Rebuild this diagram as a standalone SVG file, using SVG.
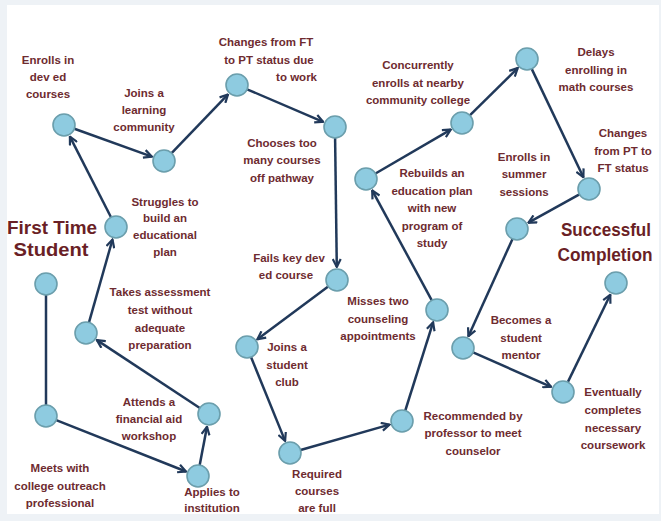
<svg xmlns="http://www.w3.org/2000/svg" width="661" height="521" viewBox="0 0 661 521">
<style>
.n{fill:#8ecbe0;stroke:#6b9eac;stroke-width:1.6}
.e{stroke:#21395a;stroke-width:2.5;fill:none;marker-end:url(#ah)}
.t{font-family:"Liberation Sans",Arial,sans-serif;font-weight:bold;font-size:11.5px;fill:#6e2b30;text-anchor:middle}
.h{font-family:"Liberation Sans",Arial,sans-serif;font-weight:bold;font-size:19px;fill:#6a1f26;text-anchor:middle}
</style>
<defs>
<marker id="ah" viewBox="0 0 10 10" refX="9" refY="5" markerWidth="10" markerHeight="10" markerUnits="userSpaceOnUse" orient="auto">
<path d="M1,1 L9,5 L1,9" fill="none" stroke="#21395a" stroke-width="2.2"/>
</marker>
</defs>
<rect width="661" height="521" fill="#eef2f6"/>
<rect x="7" y="5" width="652" height="509" fill="#ffffff"/>

<g id="connectors">
<line x1="46" y1="295" x2="46" y2="405" stroke="#21395a" stroke-width="2.5"/>
<line class="e" x1="56.2" y1="420.1" x2="186.0" y2="471.5"/>
<line class="e" x1="199.7" y1="465.1" x2="207.0" y2="426.8"/>
<line class="e" x1="199.8" y1="408.0" x2="96.9" y2="340.1"/>
<line class="e" x1="89.0" y1="322.4" x2="112.5" y2="239.5"/>
<line class="e" x1="111.0" y1="217.2" x2="69.9" y2="136.6"/>
<line class="e" x1="74.4" y1="128.7" x2="151.8" y2="156.6"/>
<line class="e" x1="171.6" y1="153.1" x2="228.0" y2="94.4"/>
<line class="e" x1="247.1" y1="89.3" x2="323.1" y2="121.9"/>
<line class="e" x1="335.1" y1="138" x2="336.8" y2="267"/>
<line class="e" x1="328.2" y1="286.6" x2="257.4" y2="339.2"/>
<line class="e" x1="251.1" y1="357.2" x2="285.1" y2="440.9"/>
<line class="e" x1="300.6" y1="450.0" x2="389.5" y2="424.6"/>
<line class="e" x1="405.3" y1="410.5" x2="433.1" y2="322.4"/>
<line class="e" x1="431.8" y1="300.3" x2="372.2" y2="190.4"/>
<line class="e" x1="375.5" y1="173.5" x2="450.8" y2="129.6"/>
<line class="e" x1="469.8" y1="115.3" x2="517.7" y2="68.1"/>
<line class="e" x1="531.7" y1="68.9" x2="583.4" y2="177.3"/>
<line class="e" x1="579.4" y1="194.3" x2="528.4" y2="222.7"/>
<line class="e" x1="512.5" y1="239.0" x2="468.4" y2="336.2"/>
<line class="e" x1="473.1" y1="352.4" x2="551.1" y2="386.8"/>
<line class="e" x1="567.8" y1="382.1" x2="610.3" y2="294.7"/>
</g>

<g id="first-time-student">
<circle class="n" cx="46" cy="284" r="11"/>
<text class="h" x="52" y="234" textLength="90" lengthAdjust="spacingAndGlyphs">First Time</text>
<text class="h" x="51" y="256" textLength="75" lengthAdjust="spacingAndGlyphs">Student</text>
</g>
<g id="meets-outreach">
<circle class="n" cx="46" cy="416" r="11"/>
<text class="t" x="60" y="472">Meets with</text>
<text class="t" x="60" y="490">college outreach</text>
<text class="t" x="60" y="507">professional</text>
</g>
<g id="applies">
<circle class="n" cx="198" cy="476" r="11"/>
<text class="t" x="212" y="496">Applies to</text>
<text class="t" x="212" y="512">institution</text>
</g>
<g id="financial-aid">
<circle class="n" cx="209" cy="414" r="11"/>
<text class="t" x="149" y="406">Attends a</text>
<text class="t" x="149" y="423">financial aid</text>
<text class="t" x="149" y="440">workshop</text>
</g>
<g id="assessment">
<circle class="n" cx="86" cy="333" r="11"/>
<text class="t" x="160" y="296">Takes assessment</text>
<text class="t" x="160" y="314">test without</text>
<text class="t" x="160" y="332">adequate</text>
<text class="t" x="160" y="349">preparation</text>
</g>
<g id="struggles">
<circle class="n" cx="116" cy="227" r="11"/>
<text class="t" x="165" y="206">Struggles to</text>
<text class="t" x="165" y="222">build an</text>
<text class="t" x="165" y="239">educational</text>
<text class="t" x="165" y="256">plan</text>
</g>
<g id="dev-ed">
<circle class="n" cx="64" cy="125" r="11"/>
<text class="t" x="48" y="64">Enrolls in</text>
<text class="t" x="48" y="81">dev ed</text>
<text class="t" x="48" y="98">courses</text>
</g>
<g id="learning-community">
<circle class="n" cx="164" cy="161" r="11"/>
<text class="t" x="144" y="97">Joins a</text>
<text class="t" x="144" y="114">learning</text>
<text class="t" x="144" y="131">community</text>
</g>
<g id="ft-to-pt">
<circle class="n" cx="237" cy="85" r="11"/>
<text class="t" x="266" y="46">Changes from FT</text>
<text class="t" x="269" y="64">to PT status due</text>
<text class="t" x="317" y="81" style="text-anchor:end">to work</text>
</g>
<g id="too-many-courses">
<circle class="n" cx="335" cy="127" r="11"/>
<text class="t" x="282" y="147">Chooses too</text>
<text class="t" x="282" y="164">many courses</text>
<text class="t" x="282" y="182">off pathway</text>
</g>
<g id="fails-dev-ed">
<circle class="n" cx="337" cy="280" r="11"/>
<text class="t" x="289" y="262">Fails key dev</text>
<text class="t" x="286" y="279">ed course</text>
</g>
<g id="student-club">
<circle class="n" cx="247" cy="347" r="11"/>
<text class="t" x="287" y="351">Joins a</text>
<text class="t" x="287" y="369">student</text>
<text class="t" x="287" y="386">club</text>
</g>
<g id="courses-full">
<circle class="n" cx="290" cy="453" r="11"/>
<text class="t" x="317" y="478">Required</text>
<text class="t" x="317" y="495">courses</text>
<text class="t" x="317" y="512">are full</text>
</g>
<g id="recommended">
<circle class="n" cx="402" cy="421" r="11"/>
<text class="t" x="473" y="420">Recommended by</text>
<text class="t" x="473" y="437">professor  to meet</text>
<text class="t" x="473" y="455">counselor</text>
</g>
<g id="misses-appointments">
<circle class="n" cx="437" cy="310" r="11"/>
<text class="t" x="378" y="305">Misses two</text>
<text class="t" x="378" y="323">counseling</text>
<text class="t" x="378" y="340">appointments</text>
</g>
<g id="rebuilds-plan">
<circle class="n" cx="366" cy="179" r="11"/>
<text class="t" x="432" y="177">Rebuilds an</text>
<text class="t" x="432" y="195">education plan</text>
<text class="t" x="432" y="212">with new</text>
<text class="t" x="432" y="230">program of</text>
<text class="t" x="432" y="247">study</text>
</g>
<g id="concurrently-enrolls">
<circle class="n" cx="462" cy="123" r="11"/>
<text class="t" x="418" y="69">Concurrently</text>
<text class="t" x="418" y="87">enrolls at nearby</text>
<text class="t" x="418" y="104">community college</text>
</g>
<g id="delays-math">
<circle class="n" cx="527" cy="59" r="11"/>
<text class="t" x="596" y="56">Delays</text>
<text class="t" x="596" y="74">enrolling in</text>
<text class="t" x="596" y="91">math courses</text>
</g>
<g id="pt-to-ft">
<circle class="n" cx="589" cy="189" r="11"/>
<text class="t" x="623" y="137">Changes</text>
<text class="t" x="623" y="155">from PT to</text>
<text class="t" x="623" y="172">FT status</text>
</g>
<g id="summer-sessions">
<circle class="n" cx="517" cy="229" r="11"/>
<text class="t" x="524" y="161">Enrolls in</text>
<text class="t" x="524" y="178">summer</text>
<text class="t" x="524" y="196">sessions</text>
</g>
<g id="student-mentor">
<circle class="n" cx="463" cy="348" r="11"/>
<text class="t" x="521" y="324">Becomes a</text>
<text class="t" x="521" y="342">student</text>
<text class="t" x="521" y="359">mentor</text>
</g>
<g id="completes-coursework">
<circle class="n" cx="563" cy="392" r="11"/>
<text class="t" x="613" y="396">Eventually</text>
<text class="t" x="613" y="414">completes</text>
<text class="t" x="613" y="432">necessary</text>
<text class="t" x="613" y="449">coursework</text>
</g>
<g id="successful-completion">
<circle class="n" cx="616" cy="283" r="11"/>
<text class="h" x="606" y="236" textLength="90" lengthAdjust="spacingAndGlyphs">Successful</text>
<text class="h" x="605" y="261" textLength="95" lengthAdjust="spacingAndGlyphs">Completion</text>
</g>
</svg>
